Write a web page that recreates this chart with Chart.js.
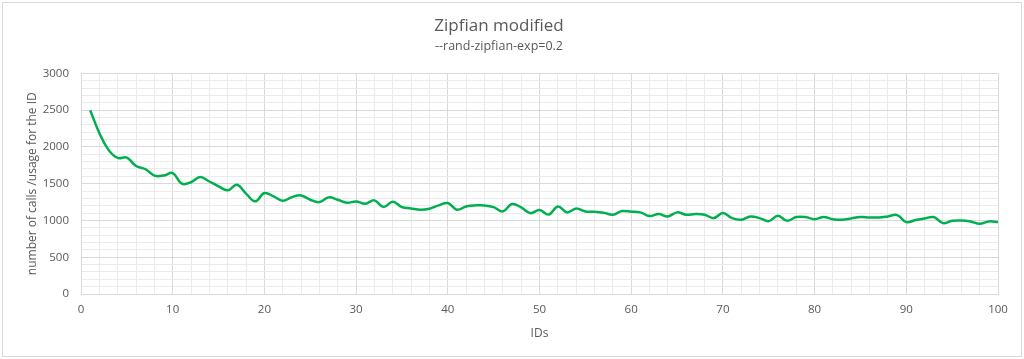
<!DOCTYPE html>
<html>
<head>
<meta charset="utf-8">
<script src="https://cdn.jsdelivr.net/npm/chart.js@4"></script>
<style>
  body { margin: 0; background: #fff; }
  #wrap { position: relative; width: 1024px; height: 359px; }
  #frame { position: absolute; left: 2px; top: 2px; width: 1018px; height: 353px; border: 1px solid #d9d9d9; pointer-events: none; }
</style>
</head>
<body>
<div id="wrap">
  <canvas id="myChart" width="1024" height="359"></canvas>
  <div id="frame"></div>
</div>
<script>
// IDs on the x axis
const ids = [1, 2, 3, 4, 5, 6, 7, 8, 9, 10,
  11, 12, 13, 14, 15, 16, 17, 18, 19, 20,
  21, 22, 23, 24, 25, 26, 27, 28, 29, 30,
  31, 32, 33, 34, 35, 36, 37, 38, 39, 40,
  41, 42, 43, 44, 45, 46, 47, 48, 49, 50,
  51, 52, 53, 54, 55, 56, 57, 58, 59, 60,
  61, 62, 63, 64, 65, 66, 67, 68, 69, 70,
  71, 72, 73, 74, 75, 76, 77, 78, 79, 80,
  81, 82, 83, 84, 85, 86, 87, 88, 89, 90,
  91, 92, 93, 94, 95, 96, 97, 98, 99, 100];

// number of calls per ID
const calls = [2500, 2190, 1960, 1850, 1855, 1740, 1700, 1610, 1610, 1645,
  1500, 1520, 1590, 1530, 1465, 1410, 1485, 1365, 1260, 1373,
  1328, 1268, 1318, 1341, 1282, 1250, 1314, 1282, 1241, 1259,
  1228, 1273, 1182, 1255, 1182, 1164, 1146, 1160, 1205, 1237,
  1146, 1191, 1205, 1205, 1182, 1123, 1223, 1178, 1100, 1143,
  1080, 1191, 1110, 1164, 1123, 1119, 1105, 1078, 1128, 1119,
  1110, 1060, 1087, 1055, 1110, 1078, 1087, 1078, 1032, 1100,
  1032, 1009, 1055, 1032, 991, 1064, 996, 1046, 1046, 1018,
  1046, 1018, 1009, 1028, 1046, 1041, 1041, 1055, 1073, 978,
  1005, 1028, 1046, 964, 996, 1000, 987, 955, 987, 978];

const chartTitle = 'Zipfian modified';
const chartSubtitle = '--rand-zipfian-exp=0.2';
const xTitle = 'IDs';
const yTitle = 'number of calls /usage for the ID';

const fontFamily = '"Open Sans", sans-serif';
const textColor = '#595959';

var points = ids.map((id, i) => ({ x: id, y: calls[i] }));

var ctx = document.getElementById('myChart').getContext('2d');
var chart = new Chart(ctx, {
  type: 'line',
  data: {
    datasets: [{
      label: 'calls',
      data: points,
      borderColor: '#00b050',
      backgroundColor: '#00b050',
      borderWidth: 2.5,
      pointRadius: 0,
      tension: 0.4,
      fill: false
    }]
  },
  options: {
    responsive: false,
    animation: false,
    layout: { padding: { left: 0, right: 26, top: 0, bottom: 0 } },
    plugins: {
      legend: { display: false },
      tooltip: { enabled: false },
      title: {
        display: true,
        text: chartTitle,
        color: textColor,
        font: { family: fontFamily, size: 17, weight: 'normal' },
        padding: { top: 16, bottom: 0 }
      },
      subtitle: {
        display: true,
        text: chartSubtitle,
        color: textColor,
        font: { family: fontFamily, size: 12.5, weight: 'normal' },
        padding: { top: 3, bottom: 19 }
      }
    },
    scales: {
      x: {
        type: 'linear',
        min: 0,
        max: 100,
        afterFit: function (scale) { scale.height = 65; },
        ticks: {
          stepSize: 2,
          autoSkip: false,
          maxRotation: 0,
          padding: 9,
          color: textColor,
          font: { family: fontFamily, size: 11.5 },
          callback: v => (v % 10 === 0 ? v : '')
        },
        grid: {
          drawTicks: false,
          color: c => (c.tick.value % 10 === 0 ? '#d9d9d9' : '#ebebeb')
        },
        border: { color: '#d9d9d9' },
        title: {
          display: true,
          text: xTitle,
          color: textColor,
          font: { family: fontFamily, size: 12 },
          padding: { top: 0, bottom: 18 }
        }
      },
      y: {
        min: 0,
        max: 3000,
        afterFit: function (scale) { scale.width = 81; },
        ticks: {
          stepSize: 100,
          autoSkip: false,
          padding: 12,
          color: textColor,
          font: { family: fontFamily, size: 11.5 },
          callback: v => (v % 500 === 0 ? v : '')
        },
        grid: {
          drawTicks: false,
          color: c => (c.tick.value % 500 === 0 ? '#d9d9d9' : '#ebebeb')
        },
        border: { color: '#d9d9d9' },
        title: {
          display: true,
          text: yTitle,
          color: textColor,
          font: { family: fontFamily, size: 12 },
          padding: { top: 25, bottom: 0 }
        }
      }
    }
  }
});
</script>
</body>
</html>
